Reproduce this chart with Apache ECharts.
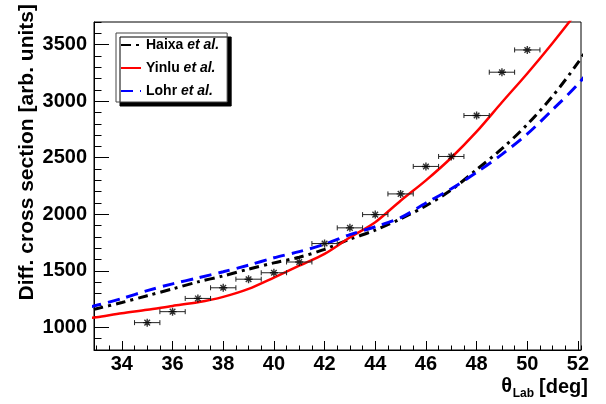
<!DOCTYPE html>
<html>
<head>
<meta charset="utf-8">
<script src="https://cdn.jsdelivr.net/npm/echarts@6/dist/echarts.min.js"></script>
<style>
  html, body { margin: 0; padding: 0; background: #fff; }
  #chart { width: 606px; height: 404px; }
</style>
</head>
<body>
<div id="chart"></div>
<script>
// Measured points: lab angle (deg), cross section (arb. units), angular half-width (deg)
const thetaData = [35, 36, 37, 38, 39, 40, 41, 42, 43, 44, 45, 46, 47, 48, 49, 50];
const xsData    = [1042, 1139, 1256, 1350, 1426, 1483, 1578, 1741, 1880, 1997, 2180, 2423, 2511, 2873, 3256, 3453];
const thetaErr  = [0.5, 0.5, 0.5, 0.5, 0.5, 0.5, 0.5, 0.5, 0.5, 0.5, 0.5, 0.5, 0.5, 0.5, 0.5, 0.5];

// Model calculations on a 1-degree grid
const thetaModel = [32, 33, 34, 35, 36, 37, 38, 39, 40, 41, 42, 43, 44, 45, 46, 47, 48, 49, 50, 51, 52, 53];
const haixa = [1110, 1165, 1220, 1280, 1340, 1402, 1455, 1515, 1570, 1620, 1690, 1780, 1860, 1960, 2075, 2215, 2395, 2580, 2795, 3045, 3340, 3680];
const yinlu = [1060, 1090, 1125, 1155, 1190, 1222, 1270, 1340, 1440, 1545, 1650, 1795, 1930, 2120, 2300, 2500, 2730, 2990, 3245, 3515, 3800, 4100];
const lohr  = [1140, 1195, 1255, 1325, 1385, 1437, 1492, 1550, 1615, 1670, 1735, 1820, 1890, 1970, 2100, 2225, 2370, 2530, 2710, 2925, 3150, 3420];

// Legend entries
const modelNames = ['Haixa', 'Yinlu', 'Lohr'];
const legendSuffix = 'et al.';

// Axis ranges and tick steps
const xRange = [32.9, 52.12];
const yRange = [800, 3700];
const xMajorStep = 2, xMinorStep = 0.5;
const yMajorStep = 500, yMinorStep = 100;

const FONT = '"Liberation Sans", Arial, Helvetica, sans-serif';

const chart = echarts.init(document.getElementById('chart'), null, { renderer: 'canvas' });

const lineName = i => modelNames[i] + ' ' + legendSuffix;
const zip = arr => thetaModel.map((t, i) => [t, arr[i]]);

const labelStyle = { color: '#000', fontFamily: FONT, fontWeight: 'bold', fontSize: 20, formatter: v => String(v) };

const option = {
  animation: false,
  backgroundColor: '#fff',
  grid: {
    left: 94, top: 22, width: 487, height: 328,
    show: true, borderColor: '#000', borderWidth: 1, backgroundColor: 'transparent'
  },
  xAxis: [
    {
      type: 'value', min: xRange[0], max: xRange[1],
      minInterval: xMajorStep, maxInterval: xMajorStep,
      position: 'bottom',
      axisLine: { show: true, lineStyle: { color: '#000', width: 1 } },
      axisTick: { show: true, inside: true, length: 9, lineStyle: { color: '#000', width: 1 } },
      axisLabel: Object.assign({ margin: 4, showMinLabel: false, showMaxLabel: false }, labelStyle),
      splitLine: { show: false }
    },
    {
      type: 'value', min: xRange[0], max: xRange[1],
      minInterval: xMinorStep, maxInterval: xMinorStep,
      position: 'bottom', offset: 0,
      axisLine: { show: false },
      axisTick: { show: true, inside: true, length: 4.5, lineStyle: { color: '#000', width: 1 } },
      axisLabel: { show: false },
      splitLine: { show: false }
    }
  ],
  yAxis: [
    {
      type: 'value', min: yRange[0], max: yRange[1],
      minInterval: yMajorStep, maxInterval: yMajorStep,
      position: 'left',
      axisLine: { show: true, lineStyle: { color: '#000', width: 1 } },
      axisTick: { show: true, inside: true, length: 15, lineStyle: { color: '#000', width: 1 } },
      axisLabel: Object.assign({ margin: 7, showMinLabel: false, showMaxLabel: false }, labelStyle),
      splitLine: { show: false }
    },
    {
      type: 'value', min: yRange[0], max: yRange[1], interval: yMinorStep,
      position: 'left', offset: 0,
      axisLine: { show: false },
      axisTick: { show: true, inside: true, length: 7.5, lineStyle: { color: '#000', width: 1 } },
      axisLabel: { show: false },
      splitLine: { show: false }
    }
  ],
  legend: {
    left: 116, top: 33, orient: 'vertical',
    padding: [5, 8, 4, 4], itemGap: 9, itemWidth: 20, itemHeight: 14,
    backgroundColor: '#fff', borderColor: '#444', borderWidth: 1,
    shadowColor: '#000', shadowBlur: 0, shadowOffsetX: 4, shadowOffsetY: 4,
    itemStyle: { opacity: 0 },
    data: [lineName(0), lineName(1), lineName(2)],
    formatter: name => '{b|' + name.replace(' ' + legendSuffix, '') + '} {i|' + legendSuffix + '}',
    textStyle: {
      fontFamily: FONT, fontSize: 14, color: '#000',
      rich: {
        b: { fontFamily: FONT, fontSize: 14, fontWeight: 'bold', color: '#000' },
        i: { fontFamily: FONT, fontSize: 14, fontWeight: 'bold', fontStyle: 'italic', color: '#000' }
      }
    }
  },
  graphic: [
    {
      type: 'text', x: 27, y: 4, rotation: Math.PI / 2, silent: true,
      style: {
        text: 'Diff. cross section [arb. units]', fill: '#000',
        font: 'bold 21px ' + FONT, textAlign: 'right', textVerticalAlign: 'middle'
      }
    },
    {
      type: 'text', x: 588, y: 387, silent: true,
      style: { text: '[deg]', fill: '#000', font: 'bold 20px ' + FONT, textAlign: 'right', textVerticalAlign: 'middle' }
    },
    {
      type: 'text', x: 534, y: 394, silent: true,
      style: { text: 'Lab', fill: '#000', font: 'bold 12px ' + FONT, textAlign: 'right', textVerticalAlign: 'middle' }
    },
    {
      type: 'text', x: 512, y: 386, silent: true,
      style: { text: 'θ', fill: '#000', font: 'bold 20px ' + FONT, textAlign: 'right', textVerticalAlign: 'middle' }
    }
  ],
  series: [
    {
      name: lineName(0), type: 'line', data: zip(haixa), smooth: 0.3,
      symbol: 'none', clip: true, z: 2,
      lineStyle: { color: '#000', width: 3, type: [10, 5, 3, 5] },
      itemStyle: { color: '#000' }
    },
    {
      name: lineName(1), type: 'line', data: zip(yinlu), smooth: 0.3,
      symbol: 'none', clip: true, z: 2,
      lineStyle: { color: '#ff0000', width: 2.5, type: 'solid' },
      itemStyle: { color: '#ff0000' }
    },
    {
      name: lineName(2), type: 'line', data: zip(lohr), smooth: 0.3,
      symbol: 'none', clip: true, z: 2,
      lineStyle: { color: '#0000ff', width: 3, type: [12, 7] },
      itemStyle: { color: '#0000ff' }
    },
    {
      // horizontal error bars with end caps
      type: 'custom', silent: true, z: 3,
      data: thetaData.map((t, i) => [t, xsData[i], thetaErr[i]]),
      encode: { x: 0, y: 1 },
      renderItem: (params, api) => {
        const x = api.value(0), y = api.value(1), e = api.value(2);
        const a = api.coord([x - e, y]);
        const b = api.coord([x + e, y]);
        const st = { stroke: '#222', lineWidth: 1 };
        return {
          type: 'group',
          children: [
            { type: 'line', shape: { x1: a[0], y1: a[1], x2: b[0], y2: b[1] }, style: st },
            { type: 'line', shape: { x1: a[0], y1: a[1] - 2.5, x2: a[0], y2: a[1] + 2.5 }, style: st },
            { type: 'line', shape: { x1: b[0], y1: b[1] - 2.5, x2: b[0], y2: b[1] + 2.5 }, style: st }
          ]
        };
      }
    },
    {
      type: 'scatter', silent: true, z: 4,
      data: thetaData.map((t, i) => [t, xsData[i]]),
      symbol: 'path://M0,5L10,5M5,0L5,10M1.5,1.5L8.5,8.5M1.5,8.5L8.5,1.5',
      symbolSize: 8,
      itemStyle: { color: 'transparent', borderColor: '#000', borderWidth: 1.4 }
    }
  ]
};

chart.setOption(option);
</script>
</body>
</html>
